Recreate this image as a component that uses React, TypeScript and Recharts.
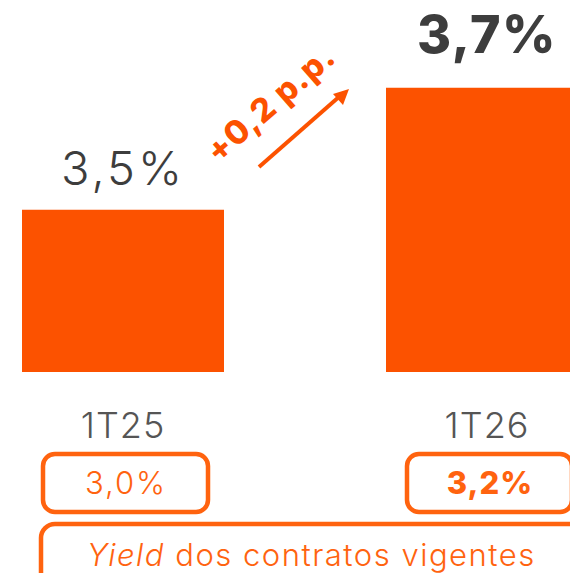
import React from "react";
import { BarChart, Bar, XAxis, YAxis, LabelList, Customized } from "recharts";

const categories = ["1T25", "1T26"];
const yieldValues = [3.5, 3.7];
const contractYields = [3.0, 3.2];
const deltaLabel = "+0,2 p.p.";
const captionItalic = "Yield";
const captionRest = " dos contratos vigentes";

const ORANGE = "#fc5200";
const BOX_ORANGE = "#ff630f";
const DARK = "#3d3d3d";
const GRAY = "#555555";
const FONT = "Inter, 'Open Sans', sans-serif";
const SHIFT = 59; // chart is wider than the window, shifted left

const data = categories.map((name, i) => ({
  name,
  value: yieldValues[i],
  contract: contractYields[i],
}));

const fmt = (v: number) => v.toFixed(1).replace(".", ",") + "%";

const ValueLabel = (props: any) => {
  const { x, y, width, value, index } = props;
  const last = index === data.length - 1;
  return (
    <text
      x={x + width / 2}
      y={y - (last ? 35 : 25)}
      textAnchor="middle"
      fontFamily={FONT}
      fontSize={last ? 52 : 47}
      fontWeight={last ? 800 : 300}
      letterSpacing={last ? 1.5 : 3}
      fill={DARK}
    >
      {fmt(value)}
    </text>
  );
};

const CategoryTick = (props: any) => {
  const { x, payload, index } = props;
  const last = index === data.length - 1;
  const base = 372;
  return (
    <g>
      <text
        x={x}
        y={base + 66}
        textAnchor="middle"
        fontFamily={FONT}
        fontSize={36}
        fontWeight={300}
        letterSpacing={1}
        fill={GRAY}
      >
        {payload.value}
      </text>
      <rect
        x={x - 80}
        y={base + 82}
        width={165}
        height={58}
        rx={12}
        fill="none"
        stroke={BOX_ORANGE}
        strokeWidth={4.5}
      />
      <text
        x={x + 3}
        y={base + 122}
        textAnchor="middle"
        fontFamily={FONT}
        fontSize={31}
        fontWeight={last ? 800 : 300}
        letterSpacing={last ? 1 : 2}
        fill={BOX_ORANGE}
      >
        {fmt(contractYields[index])}
      </text>
    </g>
  );
};

const Annotations = () => (
  <g>
    <line x1={SHIFT + 259} y1={167} x2={SHIFT + 340} y2={96} stroke={ORANGE} strokeWidth={4} />
    <polygon
      points={`${SHIFT + 349},${89} ${SHIFT + 333},${94} ${SHIFT + 343},${105}`}
      fill={ORANGE}
    />
    <text
      x={SHIFT + 270}
      y={115}
      textAnchor="middle"
      fontFamily={FONT}
      fontSize={33}
      fontWeight={800}
      letterSpacing={1}
      fill={ORANGE}
      transform={`rotate(-41 ${SHIFT + 270} 103)`}
    >
      {deltaLabel}
    </text>
    <rect
      x={SHIFT + 41}
      y={524}
      width={620}
      height={100}
      rx={14}
      fill="none"
      stroke={BOX_ORANGE}
      strokeWidth={4.5}
    />
    <text
      x={SHIFT + 87}
      y={566}
      fontFamily={FONT}
      fontSize={31}
      fontWeight={300}
      letterSpacing={1.5}
      fill={BOX_ORANGE}
    >
      <tspan fontStyle="italic">{captionItalic}</tspan>
      <tspan>{captionRest}</tspan>
    </text>
  </g>
);

export default function App() {
  return (
    <div
      style={{
        position: "fixed",
        left: 0,
        top: 0,
        width: 570,
        height: 573,
        overflow: "hidden",
        background: "#ffffff",
      }}
    >
      <div style={{ position: "absolute", left: -SHIFT, top: 0 }}>
        <BarChart width={728} height={573} data={data} margin={{ top: 0, right: 0, bottom: 0, left: 0 }}>
          <YAxis hide domain={[3.234, 3.844]} allowDataOverflow />
          <XAxis
            dataKey="name"
            height={201}
            axisLine={false}
            tickLine={false}
            tick={<CategoryTick />}
            interval={0}
          />
          <Bar dataKey="value" fill={ORANGE} barSize={202} isAnimationActive={false}>
            <LabelList dataKey="value" content={<ValueLabel />} />
          </Bar>
          <Customized component={Annotations} />
        </BarChart>
      </div>
    </div>
  );
}
